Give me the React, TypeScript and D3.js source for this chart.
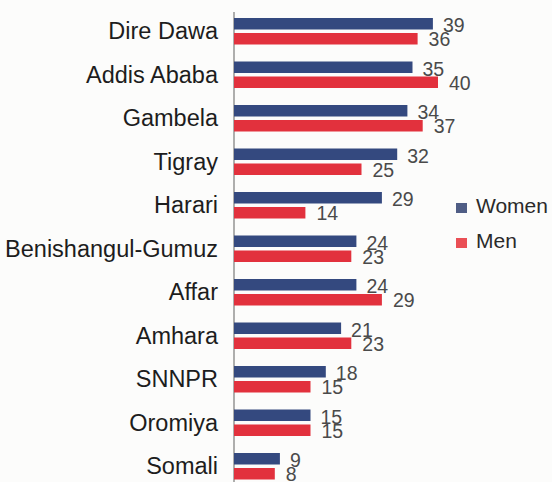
import React from "react";
import * as d3 from "d3";

const categories = [
  "Dire Dawa",
  "Addis Ababa",
  "Gambela",
  "Tigray",
  "Harari",
  "Benishangul-Gumuz",
  "Affar",
  "Amhara",
  "SNNPR",
  "Oromiya",
  "Somali",
];
const women = [39, 35, 34, 32, 29, 24, 24, 21, 18, 15, 9];
const men = [36, 40, 37, 25, 14, 23, 29, 23, 15, 15, 8];
const seriesNames = ["Women", "Men"];
const seriesColors = ["#34497f", "#e2313d"];
const legendColors = ["#4f5d85", "#ea4f55"];

const W = 552;
const H = 482;
const FONT = "'Liberation Sans', Arial, Helvetica, sans-serif";

export default function App() {
  const x = d3.scaleLinear().domain([0, 40]).range([234, 438]);
  const step = 43.5;
  const y0 = d3
    .scaleBand<string>()
    .domain(categories)
    .range([18, 18 + step * categories.length])
    .padding(0);
  const y1 = d3
    .scaleBand<string>()
    .domain(seriesNames)
    .range([0, 26.5])
    .paddingInner(0.233);
  const values = [women, men];
  const labelDx = [10, 11];
  const labelDy = [2.5, 1.5];

  return (
    <svg
      width={W}
      height={H}
      style={{ position: "fixed", left: 0, top: 0, background: "#fcfcfb" }}
      fontFamily={FONT}
    >
      <line x1={x(0)} x2={x(0)} y1={12} y2={H} stroke="#7a7a7a" strokeWidth={1.2} />
      {categories.map((c, i) => {
        const top = y0(c) as number;
        const center = top + 13;
        return (
          <g key={c}>
            <text
              x={218}
              y={center}
              dy="0.36em"
              textAnchor="end"
              fontSize={23.5}
              fill="#1d1d1d"
            >
              {c}
            </text>
            {seriesNames.map((s, k) => {
              const v = values[k][i];
              const by = top + (y1(s) as number);
              const bh = y1.bandwidth();
              return (
                <g key={s}>
                  <rect
                    x={x(0)}
                    y={by}
                    width={x(v) - x(0)}
                    height={bh}
                    fill={seriesColors[k]}
                  />
                  <text
                    x={x(v) + labelDx[k]}
                    y={by + bh + labelDy[k]}
                    fontSize={19.5}
                    fill="#4a4a4a"
                  >
                    {v}
                  </text>
                </g>
              );
            })}
          </g>
        );
      })}
      {seriesNames.map((s, k) => (
        <g key={s} transform={`translate(456, ${203 + k * 35})`}>
          <rect x={0} y={0} width={11} height={10} fill={legendColors[k]} />
          <text x={20} y={10} fontSize={21} fill="#2a2a2a">
            {s}
          </text>
        </g>
      ))}
    </svg>
  );
}
